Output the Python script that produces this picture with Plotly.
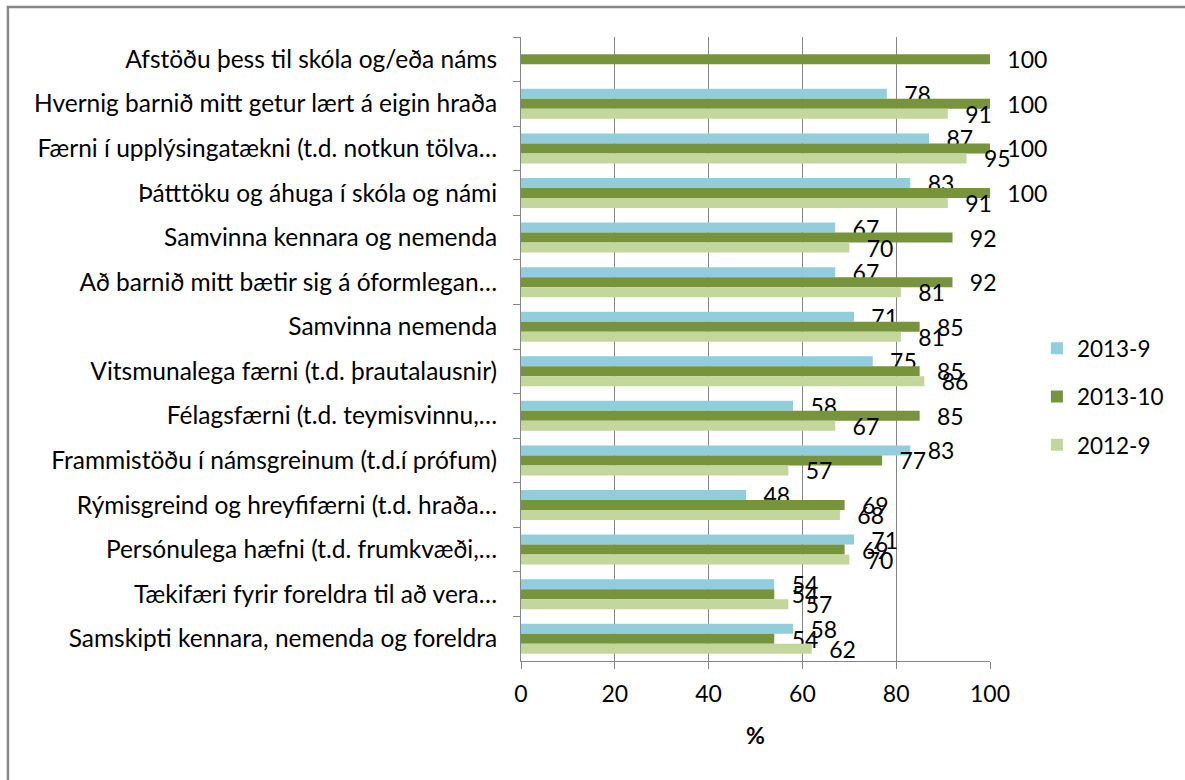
import plotly.graph_objects as go

categories = [
    "Afstöðu þess til skóla og/eða náms",
    "Hvernig barnið mitt getur lært á eigin hraða",
    "Færni í upplýsingatækni (t.d. notkun tölva…",
    "Þátttöku og áhuga í skóla og námi",
    "Samvinna kennara og nemenda",
    "Að barnið mitt bætir sig á óformlegan…",
    "Samvinna nemenda",
    "Vitsmunalega færni (t.d. þrautalausnir)",
    "Félagsfærni (t.d. teymisvinnu,…",
    "Frammistöðu í námsgreinum (t.d.í prófum)",
    "Rýmisgreind og hreyfifærni (t.d. hraða…",
    "Persónulega hæfni (t.d. frumkvæði,…",
    "Tækifæri fyrir foreldra til að vera…",
    "Samskipti kennara, nemenda og foreldra",
]
s2013_9 = [None, 78, 87, 83, 67, 67, 71, 75, 58, 83, 48, 71, 54, 58]
s2013_10 = [100, 100, 100, 100, 92, 92, 85, 85, 85, 77, 69, 69, 54, 54]
s2012_9 = [None, 91, 95, 91, 70, 81, 81, 86, 67, 57, 68, 70, 57, 62]

series = [
    ("2013-9", s2013_9, "#92CDDC"),
    ("2013-10", s2013_10, "#77933C"),
    ("2012-9", s2012_9, "#C3D69B"),
]

FONT = "Lato, 'Open Sans', sans-serif"
FS = 23
CAT_FS = 24.5

fig = go.Figure()
for i, (name, vals, color) in enumerate(series):
    fig.add_trace(go.Bar(
        y=categories, x=vals, name=name, orientation="h",
        marker=dict(color=color, line=dict(width=0)),
        text=[None if v is None else str(v) for v in vals],
        texttemplate="\u2002\u2009%{text}",
        textposition="outside",
        constraintext="none",
        cliponaxis=False,
        outsidetextfont=dict(family=FONT, size=FS, color="black"),
        legendgroup=f"g{i}",
    ))

fig.update_layout(
    width=1185, height=780,
    margin=dict(l=521, r=195, t=37, b=119),
    paper_bgcolor="white", plot_bgcolor="white",
    barmode="group", bargap=0.327, bargroupgap=0,
    font=dict(family=FONT, size=FS, color="black"),
    showlegend=True,
    legend=dict(
        x=1.1, xanchor="left", y=0.535, yanchor="top",
        traceorder="grouped", tracegroupgap=16,
        font=dict(family=FONT, size=22.5, color="black"),
        bgcolor="rgba(0,0,0,0)",
    ),
    xaxis=dict(
        range=[0, 100], dtick=20, tick0=0,
        showgrid=True, gridcolor="#868686", gridwidth=1,
        showline=True, linecolor="#868686", linewidth=1,
        ticks="outside", ticklen=7, tickcolor="#868686",
        zeroline=False,
        ticklabelstandoff=5,
        tickfont=dict(family=FONT, size=FS, color="black"),
        title=dict(text="<b>%</b>", font=dict(family=FONT, size=FS, color="black"), standoff=22),
    ),
    yaxis=dict(
        autorange="reversed", type="category",
        showline=True, linecolor="#868686", linewidth=1,
        ticks="outside", ticklen=7, tickcolor="#868686",
        tickson="boundaries",
        showgrid=False,
        ticklabelstandoff=18,
        tickfont=dict(family=FONT, size=CAT_FS, color="black"),
    ),
    shapes=[dict(
        type="rect", xref="paper", yref="paper",
        x0=-1.094, x1=1.6, y0=-0.5, y1=1.048,
        line=dict(color="#888888", width=2.5), fillcolor="rgba(0,0,0,0)",
        layer="below",
    )],
)

fig.write_html(
    "out.html",
    config={"displayModeBar": False},
    post_script="document.body.style.margin='0';",
)
